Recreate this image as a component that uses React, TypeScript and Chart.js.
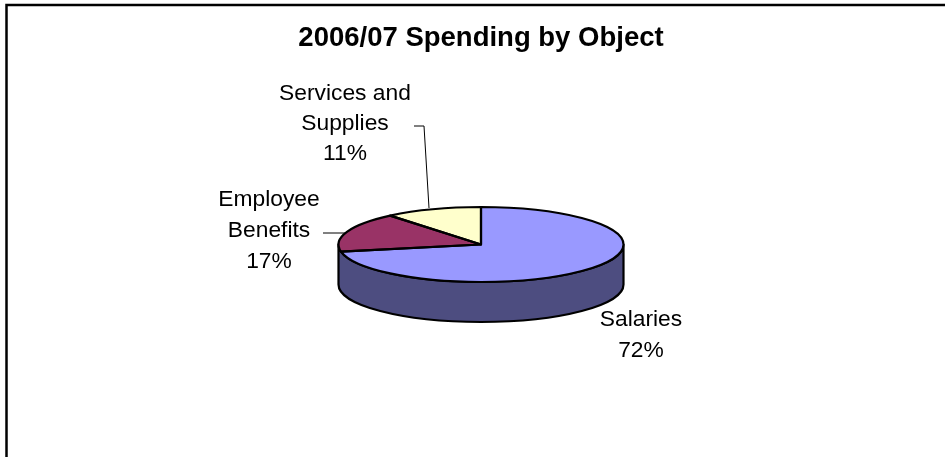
import React, { useEffect, useRef } from "react";
import { Chart, registerables } from "chart.js";

Chart.register(...registerables);

const chartTitle = "2006/07 Spending by Object";
const categories = ["Salaries", "Employee Benefits", "Services and Supplies"];
const spending = [72, 17, 11];
const sliceColors = ["#9999FF", "#993366", "#FFFFCC"];
const sideColor = "#4D4D80";

const FONT = '"Liberation Sans", Arial, sans-serif';
const FLATTEN = 37.5 / 142.5;
const DEPTH = 40;

const labelLayout = [
  { x: 641, y: 319.5, lines: ["Salaries"], gap: 31 },
  { x: 269, y: 200, lines: ["Employee", "Benefits"], gap: 31 },
  { x: 345, y: 93.5, lines: ["Services and", "Supplies"], gap: 30 },
];
const leaderLines = [
  null,
  [[323, 233], [345, 233]],
  [[414, 126], [424, 126], [429, 208]],
];

const pie3d = {
  id: "pie3d",
  beforeDraw(chart: any) {
    const { ctx, width, height } = chart;
    ctx.save();
    ctx.fillStyle = "#FFFFFF";
    ctx.fillRect(0, 0, width, height);
    ctx.strokeStyle = "#000000";
    ctx.lineWidth = 2.5;
    ctx.beginPath();
    ctx.moveTo(6.5, height);
    ctx.lineTo(6.5, 5);
    ctx.lineTo(width, 5);
    ctx.stroke();
    ctx.restore();
  },
  beforeDatasetsDraw(chart: any) {
    const { ctx } = chart;
    const arc = chart.getDatasetMeta(0).data[0];
    const { x, y, outerRadius: r } = arc;
    const ry = r * FLATTEN;
    ctx.save();
    ctx.beginPath();
    ctx.ellipse(x, y, r, ry, 0, 0, Math.PI);
    ctx.lineTo(x - r, y + DEPTH);
    ctx.ellipse(x, y + DEPTH, r, ry, 0, Math.PI, 0, true);
    ctx.closePath();
    ctx.fillStyle = sideColor;
    ctx.fill();
    ctx.strokeStyle = "#000000";
    ctx.lineWidth = 2.2;
    ctx.lineJoin = "round";
    ctx.stroke();
    ctx.restore();
    // flatten the pie's own slices
    ctx.save();
    ctx.translate(x, y);
    ctx.scale(1, FLATTEN);
    ctx.translate(-x, -y);
  },
  afterDatasetsDraw(chart: any) {
    const { ctx } = chart;
    ctx.restore();
    const arcs = chart.getDatasetMeta(0).data;
    ctx.save();
    ctx.strokeStyle = "#000000";
    ctx.lineWidth = 2.2;
    ctx.lineJoin = "round";
    arcs.forEach((a: any) => {
      ctx.beginPath();
      ctx.moveTo(a.x, a.y);
      ctx.ellipse(a.x, a.y, a.outerRadius, a.outerRadius * FLATTEN, 0, a.startAngle, a.endAngle);
      ctx.closePath();
      ctx.stroke();
    });
    ctx.restore();
  },
  afterDraw(chart: any) {
    const { ctx } = chart;
    const total = spending.reduce((s, v) => s + v, 0);
    ctx.save();
    ctx.fillStyle = "#000000";
    ctx.font = `22.8px ${FONT}`;
    ctx.textAlign = "center";
    ctx.textBaseline = "middle";
    categories.forEach((_, i) => {
      const l = labelLayout[i];
      const text = [...l.lines, `${Math.round((spending[i] / total) * 100)}%`];
      text.forEach((t, k) => ctx.fillText(t, l.x, l.y + k * l.gap));
      const path = leaderLines[i];
      if (path) {
        ctx.strokeStyle = "#000000";
        ctx.lineWidth = 1;
        ctx.beginPath();
        path.forEach(([px, py], k) => (k ? ctx.lineTo(px, py) : ctx.moveTo(px, py)));
        ctx.stroke();
      }
    });
    ctx.restore();
  },
};

export default function App() {
  const ref = useRef<HTMLCanvasElement>(null);
  useEffect(() => {
    const chart = new Chart(ref.current!, {
      type: "pie",
      data: {
        labels: categories,
        datasets: [{ data: spending, backgroundColor: sliceColors, borderWidth: 0 }],
      },
      options: {
        animation: false,
        responsive: false,
        layout: { padding: { left: 0, right: 0, top: 0, bottom: 70 } },
        plugins: {
          legend: { display: false },
          tooltip: { enabled: false },
          title: {
            display: true,
            text: chartTitle,
            color: "#000000",
            font: { family: FONT, size: 27.5, weight: "bold", lineHeight: 1.2 },
            padding: { top: 21.5, bottom: 47.5 },
          },
        },
      },
      plugins: [pie3d],
    } as any);
    return () => chart.destroy();
  }, []);
  return (
    <div style={{ position: "fixed", left: 0, top: 0, width: 945, height: 457, overflow: "hidden" }}>
      <canvas ref={ref} width={962} height={457} style={{ display: "block" }} />
    </div>
  );
}
